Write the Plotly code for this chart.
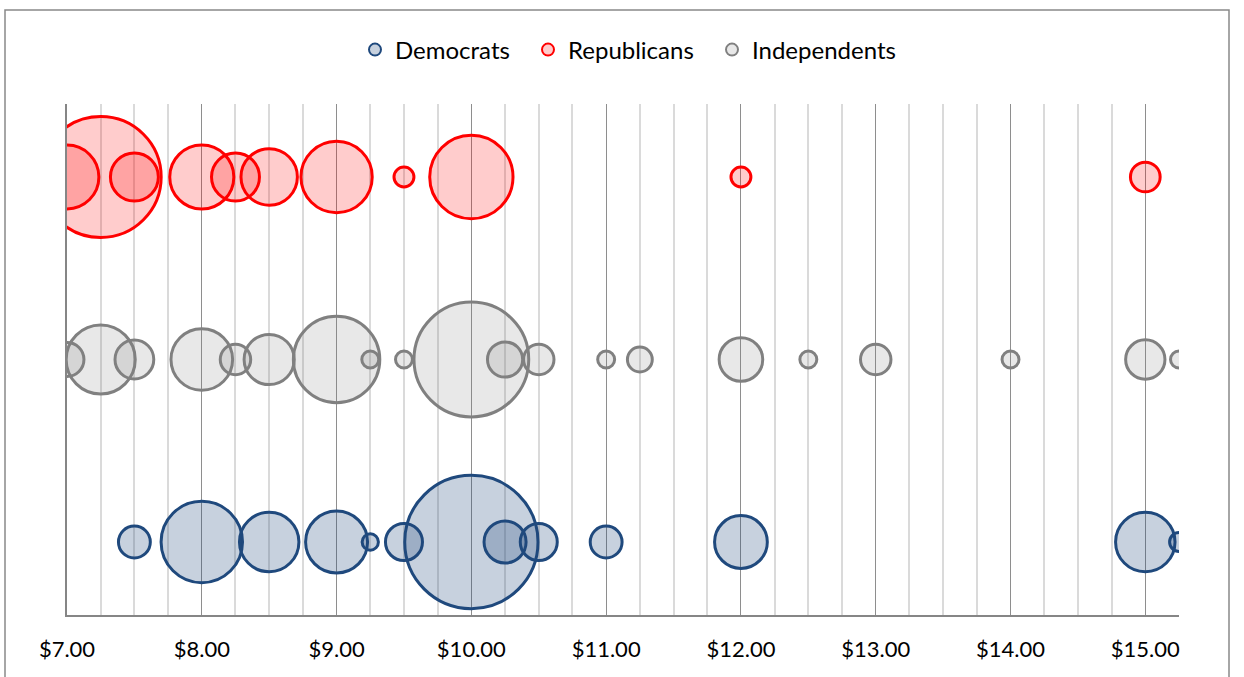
import plotly.graph_objects as go

# ---- data (share of each group naming a minimum wage level, %) ----
series_names = ["Democrats", "Republicans", "Independents"]
row_level = {"Democrats": 1, "Independents": 2, "Republicans": 3}

dem_wage = [7.50, 8.00, 8.50, 9.00, 9.25, 9.50, 10.00, 10.25, 10.50, 11.00, 12.00, 15.00, 15.25]
dem_pct = [2.3, 15.0, 8.0, 8.7, 0.6, 3.1, 40.2, 4.0, 3.1, 2.3, 6.3, 8.0, 0.8]

rep_wage = [7.00, 7.25, 7.50, 8.00, 8.25, 8.50, 9.00, 9.50, 10.00, 12.00, 15.00]
rep_pct = [9.2, 33.1, 5.2, 9.3, 5.2, 7.2, 11.5, 0.9, 15.7, 0.9, 2.0]

ind_wage = [7.00, 7.25, 7.50, 8.00, 8.25, 8.50, 9.00, 9.25, 9.50, 10.00, 10.25, 10.50,
            11.00, 11.25, 12.00, 12.50, 13.00, 14.00, 15.00, 15.25]
ind_pct = [2.6, 10.8, 3.4, 8.6, 2.1, 5.7, 16.9, 0.65, 0.65, 29.8, 2.8, 2.1,
           0.65, 1.4, 4.3, 0.65, 2.1, 0.65, 3.5, 0.65]

x_min, x_max = 7.0, 15.25

styles = {
    "Democrats": dict(line="#1F497D", fill="rgba(31,73,125,0.25)", legend="legend", lx=355),
    "Republicans": dict(line="#FF0000", fill="rgba(255,0,0,0.20)", legend="legend2", lx=528),
    "Independents": dict(line="#808080", fill="rgba(128,128,128,0.18)", legend="legend3", lx=712),
}
data = {
    "Democrats": (dem_wage, dem_pct),
    "Republicans": (rep_wage, rep_pct),
    "Independents": (ind_wage, ind_pct),
}

SIZEREF = 0.004526
FONT = "Lato"

fig = go.Figure()
for name in series_names:
    xs, vals = data[name]
    st = styles[name]
    fig.add_trace(go.Scatter(
        x=xs,
        y=[row_level[name]] * len(xs),
        mode="markers",
        name=name,
        legend=st["legend"],
        marker=dict(
            size=vals,
            sizemode="area",
            sizeref=SIZEREF,
            color=st["fill"],
            opacity=1,
            line=dict(color=st["line"], width=3),
        ),
        cliponaxis=True,
    ))

W, H = 1244, 677
L, R, T, B = 67, 65, 104, 62
pw, ph = W - L - R, H - T - B

def px_to_paper_x(px):
    return (px - L) / pw

def px_to_paper_y(py):
    return (H - B - py) / ph

def legend_at(px):
    return dict(
        orientation="h",
        x=px_to_paper_x(px), xanchor="left",
        y=px_to_paper_y(50), yanchor="middle",
        font=dict(family=FONT, size=24, color="#000000"),
        bgcolor="rgba(0,0,0,0)",
        itemsizing="constant",
        itemclick=False,
    )

fig.update_layout(
    width=W, height=H,
    margin=dict(l=L, r=R, t=T, b=B, pad=0),
    paper_bgcolor="white",
    plot_bgcolor="white",
    font=dict(family=FONT, color="#000000"),
    showlegend=True,
    legend=legend_at(styles["Democrats"]["lx"]),
    legend2=legend_at(styles["Republicans"]["lx"]),
    legend3=legend_at(styles["Independents"]["lx"]),
    xaxis=dict(
        range=[x_min, x_max],
        tick0=7, dtick=1,
        tickprefix="$", tickformat=".2f",
        showgrid=True, gridcolor="#8E8E8E", gridwidth=1.2,
        minor=dict(dtick=0.25, tick0=7, showgrid=True, gridcolor="#DADADA", gridwidth=1.5),
        showline=True, linecolor="#868686", linewidth=1.5,
        ticks="", zeroline=False,
        tickfont=dict(family=FONT, size=22, color="#000000"),
        ticklabelstandoff=14,
        fixedrange=True,
    ),
    yaxis=dict(
        range=[0.6, 3.4],
        showgrid=False, zeroline=False,
        showticklabels=False, ticks="",
        showline=True, linecolor="#868686", linewidth=1.5,
        fixedrange=True,
    ),
    shapes=[dict(
        type="rect", xref="paper", yref="paper",
        x0=px_to_paper_x(5), x1=px_to_paper_x(1229),
        y0=px_to_paper_y(700), y1=px_to_paper_y(10),
        line=dict(color="#898989", width=1.5),
        fillcolor="rgba(0,0,0,0)", layer="below",
    )],
)

fig.write_html(
    "out.html",
    config={"displayModeBar": False},
    post_script="document.body.style.margin='0';document.body.style.overflow='hidden';",
)
